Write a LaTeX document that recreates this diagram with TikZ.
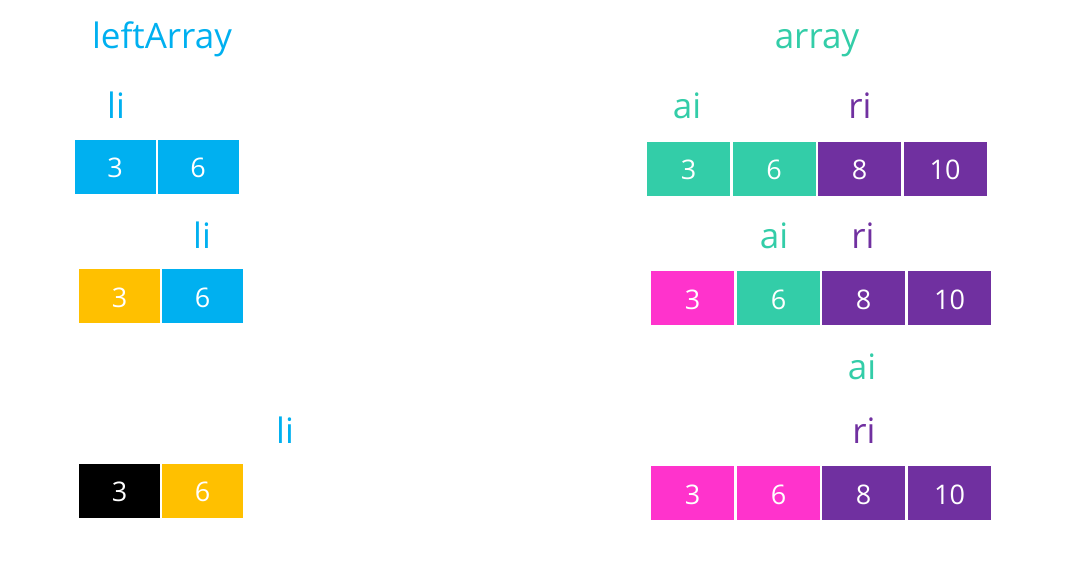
\documentclass[tikz,border=0pt]{standalone}
\usepackage{fontspec}
\setmainfont{Open Sans}
\definecolor{cblue}{HTML}{00B0F0}
\definecolor{corange}{HTML}{FFC000}
\definecolor{cteal}{HTML}{33CDA8}
\definecolor{cpurple}{HTML}{7030A0}
\definecolor{cpink}{HTML}{FF33CC}
\tikzset{
  cell/.style={inner sep=0pt, minimum height=54pt, text=white, font=\fontsize{27}{30}\selectfont,
    text height=22pt, text depth=0pt},
  lcell/.style={cell, minimum width=81pt},
  rcell/.style={cell, minimum width=83pt},
  lab/.style={anchor=base, inner sep=0pt, font=\fontsize{35}{40}\selectfont},
}
\begin{document}
\begin{tikzpicture}[x=1pt,y=-1pt]
\useasboundingbox (0,0) rectangle (1069,576);
% left side
\node[lab, text=cblue] (lt) at (162,48) {leftArray};
\node[lab, text=cblue] (l1) at (116,118) {li};
\node[lcell, fill=cblue] (l1a) at (115,166.5) {3};
\node[lcell, fill=cblue] (l1b) at (198,166.5) {6};
\node[lab, text=cblue] (l2) at (202,248) {li};
\node[lcell, fill=corange] (l2a) at (119.5,296) {3};
\node[lcell, fill=cblue] (l2b) at (202.5,296) {6};
\node[lab, text=cblue] (l3) at (285,443) {li};
\node[lcell, fill=black] (l3a) at (119.5,490.5) {3};
\node[lcell, fill=corange] (l3b) at (202.5,490.5) {6};
% right side
\node[lab, text=cteal] (rt) at (817,48) {array};
\node[lab, text=cteal] (r1ai) at (687,118) {ai};
\node[lab, text=cpurple] (r1ri) at (860,118) {ri};
\node[rcell, fill=cteal] (r1a) at (688.5,168.5) {3};
\node[rcell, fill=cteal] (r1b) at (774,168.5) {6};
\node[rcell, fill=cpurple] (r1c) at (859.5,168.5) {8};
\node[rcell, fill=cpurple] (r1d) at (945,168.5) {10};
\node[lab, text=cteal] (r2ai) at (774,248) {ai};
\node[lab, text=cpurple] (r2ri) at (863,248) {ri};
\node[rcell, fill=cpink] (r2a) at (692.5,298) {3};
\node[rcell, fill=cteal] (r2b) at (778.5,298) {6};
\node[rcell, fill=cpurple] (r2c) at (863.5,298) {8};
\node[rcell, fill=cpurple] (r2d) at (949.5,298) {10};
\node[lab, text=cteal] (r3ai) at (862,379) {ai};
\node[lab, text=cpurple] (r3ri) at (864,443) {ri};
\node[rcell, fill=cpink] (r3a) at (692.5,493) {3};
\node[rcell, fill=cpink] (r3b) at (778.5,493) {6};
\node[rcell, fill=cpurple] (r3c) at (863.5,493) {8};
\node[rcell, fill=cpurple] (r3d) at (949.5,493) {10};
\end{tikzpicture}
\end{document}
